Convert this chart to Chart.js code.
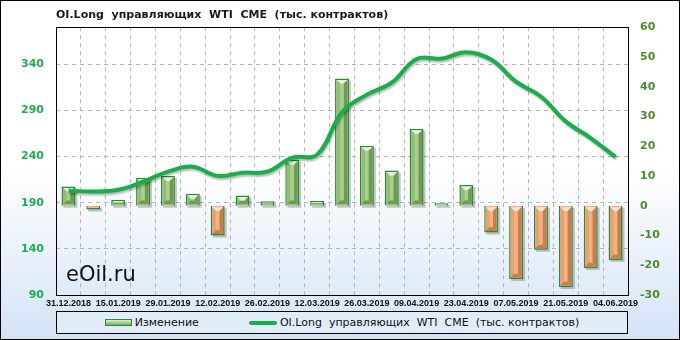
<!DOCTYPE html>
<html><head><meta charset="utf-8">
<script src="https://cdn.jsdelivr.net/npm/chart.js@4.4.1/dist/chart.umd.min.js"></script>
<style>
html,body{margin:0;padding:0;background:#fff;}
#wrap{position:relative;width:680px;height:340px;overflow:hidden;}
#c{position:absolute;left:0;top:0;}
#wm{position:absolute;left:66px;top:264px;font:21px/21px "DejaVu Sans";color:#111;white-space:nowrap;}
#legend{position:absolute;left:56px;top:311px;width:572px;height:23px;box-sizing:border-box;border:1px solid #000;background:#e1ecf9;display:flex;align-items:center;justify-content:center;font:11px "DejaVu Sans";color:#111;white-space:pre;}
.li{display:flex;align-items:center;}
.ib{width:27px;height:7px;box-sizing:border-box;border:1px solid #2e8b3e;background:linear-gradient(to bottom,#dcefcf,#a9d08e 50%,#7faa62);margin-right:3px;}
.il{width:28px;height:4px;border-radius:2px;background:#18ae4a;margin-right:3px;}
</style></head>
<body>
<div id="wrap">
<canvas id="c" width="680" height="340"></canvas>
<div id="wm">eOil.ru</div>
<div id="legend"></div>
</div>
<script>
const categories = ['31.12.2018','08.01.2019','15.01.2019','22.01.2019','29.01.2019','05.02.2019','12.02.2019','19.02.2019','26.02.2019','05.03.2019','12.03.2019','19.03.2019','26.03.2019','02.04.2019','09.04.2019','16.04.2019','23.04.2019','30.04.2019','07.05.2019','14.05.2019','21.05.2019','28.05.2019','04.06.2019'];
const changeValues = [6.5,-1.3,2,9.4,10,4,-10,3.4,1.5,15.5,1.7,42.8,20.2,11.8,25.9,0.8,7,-9,-24.6,-14.8,-27.3,-20.9,-18.2];
const oiLongValues = [203,202,204,212.7,223.6,229,219,222.5,223.6,238.8,242,288,307,320,345.5,346,353,345,321,305,278,260,239.5];
const leftTicks = [90,140,190,240,290,340];
const rightTicks = [-30,-20,-10,0,10,20,30,40,50,60];
const titleText = 'OI.Long  управляющих  WTI  CME  (тыс. контрактов)';
const barLabel = 'Изменение';

const bgPlugin = {
  id:'bg',
  beforeDraw(chart){
    const {ctx,width,height} = chart;
    const g = ctx.createLinearGradient(0,0,0,height);
    g.addColorStop(0,'#ffffff'); g.addColorStop(0.5,'#ffffff'); g.addColorStop(1,'#d3e3f6');
    ctx.save(); ctx.fillStyle = g; ctx.fillRect(0,0,width,height); ctx.restore();
  },
  beforeDatasetDraw(chart,args){
    const ds = chart.data.datasets[args.index];
    const ctx = chart.ctx;
    if (ds.type==='bar'){
      ctx.save(); ctx.fillStyle='rgba(0,0,0,0.22)';
      args.meta.data.forEach(el=>{
        const p = el.getProps(['x','y','base','width'],true);
        const t=Math.min(p.y,p.base), b=Math.max(p.y,p.base);
        ctx.fillRect(p.x-p.width/2+2,t+2,p.width,b-t);
      });
      ctx.restore();
    } else {
      ctx.save(); ctx.shadowColor='rgba(0,0,0,0.28)'; ctx.shadowOffsetX=1; ctx.shadowOffsetY=2; ctx.shadowBlur=2;
    }
  },
  afterDatasetDraw(chart,args){
    const ds = chart.data.datasets[args.index];
    const ctx = chart.ctx;
    if (ds.type!=='bar'){ ctx.restore(); return; }
    args.meta.data.forEach((el,i)=>{
      const p = el.getProps(['x','y','base','width'],true);
      const pos = changeValues[i]>=0;
      const inset=1.5;
      const L=p.x-p.width/2+inset, R=p.x+p.width/2-inset;
      const T=Math.min(p.y,p.base)+inset, B=Math.max(p.y,p.base)-inset;
      if (B-T<=0) return;
      const bv=Math.min(4,(R-L)/3,(B-T)/2);
      const c = pos ? {light:'#e4f2d8',mid:'#94bd78',dark:'#6f9a52'} : {light:'#fde6d2',mid:'#e6a173',dark:'#c57e4d'};
      const poly=(pts,col)=>{ctx.beginPath();ctx.moveTo(pts[0][0],pts[0][1]);for(let k=1;k<pts.length;k++)ctx.lineTo(pts[k][0],pts[k][1]);ctx.closePath();ctx.fillStyle=col;ctx.fill();};
      ctx.save();
      poly([[L,T],[R,T],[R-bv,T+bv],[L+bv,T+bv]],c.light);
      poly([[L,T],[L+bv,T+bv],[L+bv,B-bv],[L,B]],c.mid);
      poly([[R,T],[R,B],[R-bv,B-bv],[R-bv,T+bv]],c.dark);
      poly([[L,B],[L+bv,B-bv],[R-bv,B-bv],[R,B]],c.dark);
      ctx.restore();
    });
  },
  afterDraw(chart){
    const {ctx,chartArea:a,width,height} = chart;
    ctx.save(); ctx.strokeStyle='#000'; ctx.lineWidth=1;
    ctx.strokeRect(Math.round(a.left)+0.5,Math.round(a.top)+0.5,Math.round(a.right-a.left),Math.round(a.bottom-a.top));
    ctx.strokeRect(0.5,0.5,width-1,height-1);
    ctx.restore();
  }
};

const tickFontL = {family:'DejaVu Sans',weight:'bold',size:11};
const chart = new Chart(document.getElementById('c'),{
  data:{labels:categories,datasets:[
    {type:'line',label:titleText,data:oiLongValues,yAxisID:'y',borderColor:'#18ae4a',backgroundColor:'#18ae4a',borderWidth:4,pointRadius:0,tension:0.4,fill:false,order:1},
    {type:'bar',label:barLabel,data:changeValues,yAxisID:'y1',backgroundColor:c=>c.raw>=0?'#a9d08e':'#f4b183',borderColor:'#2e8b3e',borderWidth:1.5,barPercentage:0.56,categoryPercentage:1,order:2}
  ]},
  options:{
    responsive:false,animation:false,
    layout:{padding:{left:0,right:0,top:0,bottom:30}},
    plugins:{
      legend:{display:false},tooltip:{enabled:false},
      title:{display:true,text:titleText,align:'start',fullSize:false,color:'#1a1a1a',font:{family:'DejaVu Sans',weight:'bold',size:11,lineHeight:1.2},padding:{top:9,bottom:5}}
    },
    scales:{
      x:{grid:{offset:true,color:'#b5b5b5',drawTicks:false},border:{display:false,dash:[4,4]},
         ticks:{autoSkip:false,maxRotation:0,minRotation:0,padding:3,color:'#111',font:{family:'Liberation Sans',weight:'bold',size:9},callback:(v,i)=>i%2===0?categories[i]:''},
         afterFit:s=>{s.height=15;}},
      y:{position:'left',min:90,max:380,afterBuildTicks:s=>{s.ticks=leftTicks.map(v=>({value:v}));},
         grid:{color:'#b5b5b5',drawTicks:false},border:{display:false,dash:[4,4]},
         ticks:{padding:12,color:'#1fae4d',font:tickFontL},afterFit:s=>{s.width=56;}},
      y1:{position:'right',min:-30,max:60,afterBuildTicks:s=>{s.ticks=rightTicks.map(v=>({value:v}));},
         grid:{display:false,drawTicks:false},border:{display:false},
         ticks:{padding:12,color:'#4f8b2c',font:tickFontL},afterFit:s=>{s.width=52;}}
    }
  },
  plugins:[bgPlugin]
});

// HTML legend built from dataset labels
const lg = document.getElementById('legend');
lg.innerHTML = '<span class="li"><span class="ib"></span><span></span></span><span style="width:50px"></span><span class="li"><span class="il"></span><span></span></span>';
const spans = lg.querySelectorAll('.li > span:last-child');
spans[0].textContent = chart.data.datasets[1].label;
spans[1].textContent = chart.data.datasets[0].label;
</script>
</body></html>
